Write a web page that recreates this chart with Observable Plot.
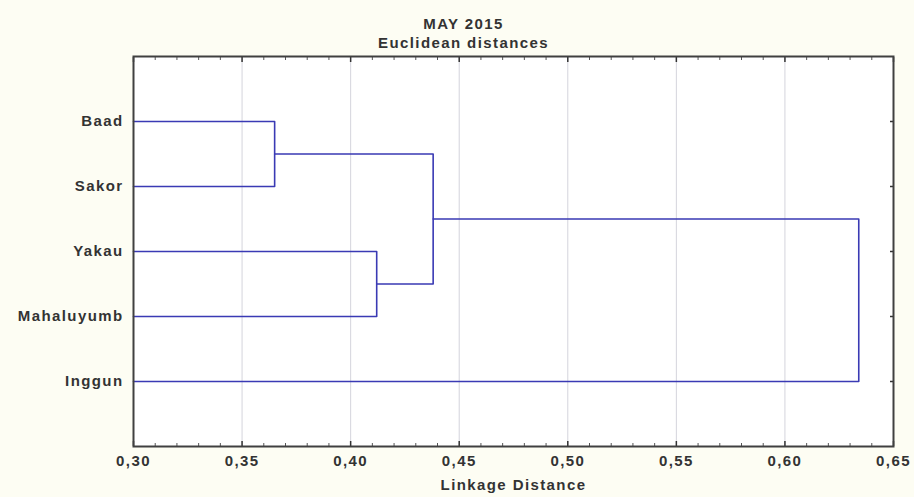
<!DOCTYPE html>
<html><head><meta charset="utf-8">
<script src="https://cdn.jsdelivr.net/npm/d3@7"></script>
<script src="https://cdn.jsdelivr.net/npm/@observablehq/plot@0.6"></script>
<style>
html,body{margin:0;padding:0;background:#fdfdf3;}
#chart svg text{letter-spacing:1.4px;}
</style></head><body><div id="chart"></div>
<script>
// Leaves (top to bottom)
const leaves = ["Baad", "Sakor", "Yakau", "Mahaluyumb", "Inggun"];
// Linkage: merge k joins clusters mergeA[k] and mergeB[k] (ids 0-4 leaves, 5+ merges)
const mergeA = [0, 2, 5, 7];
const mergeB = [1, 3, 6, 4];
const mergeHeight = [0.365, 0.412, 0.438, 0.634];
// Axis
const xDomain = [0.30, 0.65];
const xTicks = [0.30, 0.35, 0.40, 0.45, 0.50, 0.55, 0.60, 0.65];
const xTickLabels = ["0,30", "0,35", "0,40", "0,45", "0,50", "0,55", "0,60", "0,65"];
const xMinorTicks = d3.range(31, 65).map(d => d / 100).filter(d => Math.round(d * 100) % 5 !== 0);
const titleText = "MAY 2015";
const subtitleText = "Euclidean distances";
const xLabelText = "Linkage Distance";

// Build node positions
const nodes = leaves.map((name, i) => ({x: xDomain[0], y: i + 1}));
const segs = [];
mergeHeight.forEach((h, k) => {
  const a = nodes[mergeA[k]], b = nodes[mergeB[k]];
  nodes.push({x: h, y: (a.y + b.y) / 2});
  segs.push({k, x: a.x, y: a.y}, {k, x: h, y: a.y}, {k, x: h, y: b.y}, {k, x: b.x, y: b.y});
});

const W = 914, H = 497;
const mTop = 56, mBottom = 51, mLeft = 133, mRight = 21;
const font = "'Liberation Sans', Arial, sans-serif";

const chart = Plot.plot({
  width: W, height: H,
  marginTop: mTop, marginBottom: mBottom, marginLeft: mLeft, marginRight: mRight,
  style: {fontFamily: font, fontSize: "15px", fontWeight: "bold", color: "#333", background: "#fdfdf3"},
  x: {domain: xDomain, axis: null},
  y: {domain: [0, 6], reverse: true, axis: null},
  marks: [
    Plot.frame({fill: "white", stroke: "none"}),
    Plot.gridX(xTicks, {stroke: "#d4d4dc", strokeOpacity: 1, strokeWidth: 1}),
    Plot.line(segs, {x: "x", y: "y", z: "k", stroke: "#3a3ab4", strokeWidth: 1.6, curve: "linear"}),
    Plot.axisX({anchor: "bottom", ticks: xMinorTicks, tickSize: -3, fill: "none", label: null, stroke: "#555"}),
    Plot.axisX({anchor: "top", ticks: xMinorTicks, tickSize: -3, fill: "none", label: null, stroke: "#555"}),
    Plot.axisX({anchor: "bottom", ticks: xTicks, tickSize: -5, fill: "none", label: null, stroke: "#333", strokeWidth: 1.5}),
    Plot.axisX({anchor: "top", ticks: xTicks, tickSize: -5, fill: "none", label: null, stroke: "#333", strokeWidth: 1.5}),
    Plot.axisY({anchor: "right", ticks: leaves.map((d, i) => i + 1), tickSize: -4, fill: "none", label: null, stroke: "#333", strokeWidth: 1.5}),
    Plot.frame({stroke: "#404040", strokeWidth: 2}),
    Plot.text(xTicks, {x: d => d, frameAnchor: "bottom", dy: 19, text: (d, i) => xTickLabels[i], fill: "#333"}),
    Plot.text(leaves, {y: (d, i) => i + 1, frameAnchor: "left", dx: -10, textAnchor: "end", text: d => d, fill: "#333"}),
    Plot.text([xLabelText], {frameAnchor: "bottom", dy: 43, text: d => d, fill: "#333"}),
    Plot.text([titleText], {frameAnchor: "top", dy: -38, dx: -50, text: d => d, fill: "#333"}),
    Plot.text([subtitleText], {frameAnchor: "top", dy: -19, dx: -50, text: d => d, fill: "#333"})
  ]
});
document.getElementById("chart").append(chart);
</script></body></html>
